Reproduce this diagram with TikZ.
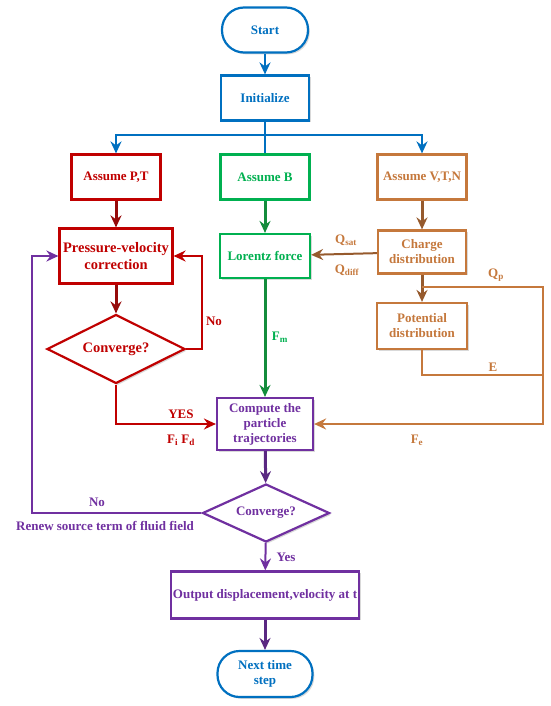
\documentclass[tikz,border=0pt]{standalone}
\usepackage{fontspec}
\setmainfont{Liberation Serif}
\usetikzlibrary{arrows.meta, shapes.geometric, shadows}
\definecolor{cblue}{RGB}{0,112,192}
\definecolor{cred}{RGB}{192,0,0}
\definecolor{dred}{RGB}{150,10,10}
\definecolor{cgreen}{RGB}{0,176,80}
\definecolor{dgreen}{RGB}{20,140,60}
\definecolor{cbrown}{RGB}{197,120,60}
\definecolor{dbrown}{RGB}{150,90,45}
\definecolor{cpurple}{RGB}{112,48,160}
\definecolor{dpurple}{RGB}{90,40,130}
\tikzset{
  block/.style={draw, fill=white, line width=2.2pt, inner sep=2pt, align=center,
    font=\fontsize{13}{15}\selectfont\bfseries,
    drop shadow={shadow xshift=1.8pt, shadow yshift=-1.8pt, opacity=0.3}},
  term/.style={block, rounded corners=22pt},
  decide/.style={block, diamond, aspect=2, inner sep=0pt},
  flow/.style={line width=2pt, -{Stealth[length=12pt, width=11pt, inset=4pt]}},
  bigflow/.style={line width=3pt, -{Stealth[length=12pt, width=11pt, inset=4pt]}},
  lab/.style={font=\fontsize{13}{15}\selectfont\bfseries}
}
\begin{document}
\begin{tikzpicture}[x=1pt, y=-1pt]
	\useasboundingbox (0,0) rectangle (550,706);
	% Blocks
	\node[term, draw=cblue, text=cblue, minimum width=86pt, minimum height=45pt] (start) at (265,30) {Start};
	\node[block, draw=cblue, text=cblue, minimum width=88pt, minimum height=45pt] (init) at (265,98) {Initialize};
	\node[block, draw=cred, text=cred, minimum width=89pt, minimum height=45pt] (assumePT) at (116,177) {Assume P,T};
	\node[block, draw=cgreen, text=cgreen, minimum width=89pt, minimum height=45pt] (assumeB) at (265,177) {Assume B};
	\node[block, draw=cbrown, text=cbrown, minimum width=89pt, minimum height=45pt] (assumeVTN) at (422,177) {Assume V,T,N};
	\node[block, draw=cred, text=cred, minimum width=113pt, minimum height=55pt, font=\fontsize{14.5}{17}\selectfont\bfseries] (pvc) at (116,256) {Pressure-velocity\\correction};
	\node[block, draw=cgreen, text=cgreen, minimum width=90pt, minimum height=44pt] (lorentz) at (265,256) {Lorentz force};
	\node[block, draw=cbrown, text=cbrown, minimum width=88pt, minimum height=43pt] (charge) at (422,252) {Charge\\distribution};
	\node[block, draw=cbrown, text=cbrown, minimum width=90pt, minimum height=46pt] (potential) at (422,326) {Potential\\distribution};
	\node[decide, draw=cred, text=cred, minimum width=138pt, minimum height=69pt, font=\fontsize{14.5}{17}\selectfont\bfseries] (convA) at (116,349) {Converge?};
	\node[block, draw=cpurple, text=cpurple, minimum width=96pt, minimum height=52pt, inner sep=0pt] (compute) at (265,424) {Compute the\\particle\\trajectories};
	\node[decide, draw=cpurple, text=cpurple, minimum width=127pt, minimum height=58pt] (convB) at (266,513) {Converge?};
	\node[block, draw=cpurple, text=cpurple, minimum width=188pt, minimum height=47pt, inner sep=0pt] (output) at (265,595) {Output displacement,velocity at t};
	\node[term, draw=cblue, text=cblue, minimum width=95pt, minimum height=46pt] (next) at (265,674) {Next time\\step};
	% Helper points
	\coordinate (split) at (265,135);
	\coordinate (qp) at (422,287);
	% Top connectors
	\draw[flow, cblue] (start) -- (init);
	\draw[line width=2pt, cblue] (init) -- (assumeB);
	\draw[flow, cblue] (split) -| (assumePT.north);
	\draw[flow, cblue] (split) -| (assumeVTN.north);
	% Fluid branch
	\draw[bigflow, dred] (assumePT) -- (pvc);
	\draw[bigflow, dred] (pvc) -- (convA);
	\draw[flow, cred] (convA.east) -- (202,349) |- (pvc.east);
	\node[lab, text=cred] (noA) at (214,321) {No};
	\draw[flow, cred] (convA.south) |- (compute.west);
	\node[lab, text=cred] (yesA) at (181,414) {YES};
	\node[lab, text=cred] (fifd) at (181,440) {F\textsubscript{i} F\textsubscript{d}};
	% Magnetic branch
	\draw[bigflow, dgreen] (assumeB) -- (lorentz);
	\draw[bigflow, dgreen] (lorentz) -- (compute);
	\node[lab, text=cgreen] (fm) at (280,337) {F\textsubscript{m}};
	% Electric branch
	\draw[bigflow, dbrown] (assumeVTN) -- (charge);
	\draw[flow, dbrown] (charge) -- (lorentz);
	\node[lab, text=cbrown] (qsat) at (346,240) {Q\textsubscript{sat}};
	\node[lab, text=cbrown] (qdiff) at (347,270) {Q\textsubscript{diff}};
	\draw[bigflow, dbrown] (charge) -- (potential);
	\draw[flow, cbrown] (qp) -- (543,287) |- (compute.east);
	\node[lab, text=cbrown] (qpl) at (496,275) {Q\textsubscript{p}};
	\draw[line width=2pt, cbrown] (potential.south) |- (543,375);
	\node[lab, text=cbrown] (el) at (493,367) {E};
	\node[lab, text=cbrown] (fe) at (417,440) {F\textsubscript{e}};
	% Particle loop
	\draw[bigflow, dpurple] (compute) -- (convB);
	\draw[flow, cpurple] (convB.west) -- (32,513) |- (pvc.west);
	\node[lab, text=cpurple] (noB) at (97,502) {No};
	\node[lab, text=cpurple] (renew) at (105,526) {Renew source term of fluid field};
	\draw[flow, cpurple] (convB) -- (output);
	\node[lab, text=cpurple] (yesB) at (286,557) {Yes};
	\draw[bigflow, dpurple] (output) -- (next);
\end{tikzpicture}
\end{document}
